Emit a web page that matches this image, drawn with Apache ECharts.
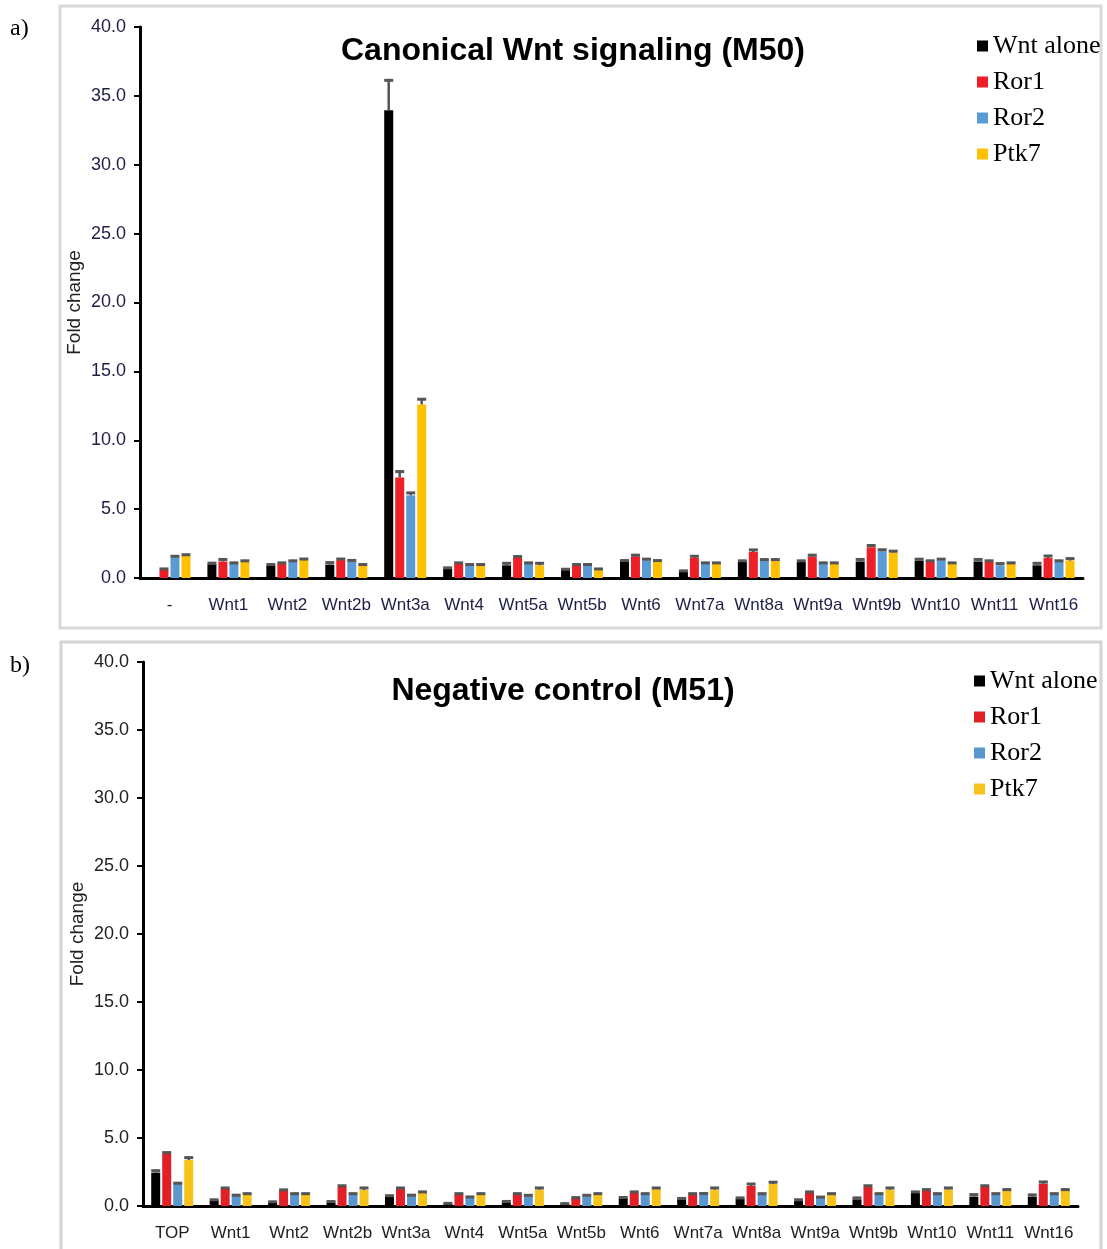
<!DOCTYPE html>
<html>
<head>
<meta charset="utf-8">
<script src="https://cdn.jsdelivr.net/npm/echarts@6/dist/echarts.min.js"></script>
<style>
html,body{margin:0;padding:0;background:#fff;}
#chart{width:1107px;height:1249px;}
</style>
</head>
<body>
<div id="chart"></div>
<script>
// ---------- DATA ----------
const seriesNames = ['Wnt alone', 'Ror1', 'Ror2', 'Ptk7'];
const yTicks = [0, 5, 10, 15, 20, 25, 30, 35, 40];

// Panel a: Canonical Wnt signaling (M50)
const catsA = ['-', 'Wnt1', 'Wnt2', 'Wnt2b', 'Wnt3a', 'Wnt4', 'Wnt5a', 'Wnt5b', 'Wnt6', 'Wnt7a', 'Wnt8a', 'Wnt9a', 'Wnt9b', 'Wnt10', 'Wnt11', 'Wnt16'];
const aWnt   = [0,   1.00, 0.90, 0.97, 33.95, 0.68, 0.92, 0.58, 1.16, 0.46, 1.16, 1.16, 1.20, 1.26, 1.20, 0.92];
const aRor1  = [0.60, 1.20, 1.02, 1.30, 7.30, 1.02, 1.45, 0.90, 1.57, 1.45, 1.89, 1.55, 2.23, 1.16, 1.16, 1.45];
const aRor2  = [1.50, 1.04, 1.16, 1.19, 6.00, 0.90, 1.02, 0.90, 1.28, 1.02, 1.26, 1.02, 1.94, 1.28, 0.92, 1.16];
const aPtk7  = [1.60, 1.16, 1.30, 0.90, 12.60, 0.90, 0.92, 0.58, 1.16, 1.02, 1.23, 1.02, 1.84, 1.02, 1.02, 1.26];
const aWntErr  = [0,    0.15, 0.15, 0.22, 2.25, 0.13, 0.22, 0.13, 0.18, 0.13, 0.16, 0.16, 0.22, 0.18, 0.22, 0.22];
const aRor1Err = [0.13, 0.22, 0.15, 0.15, 0.50, 0.15, 0.18, 0.15, 0.16, 0.20, 0.22, 0.18, 0.20, 0.16, 0.16, 0.22];
const aRor2Err = [0.15, 0.13, 0.16, 0.16, 0.25, 0.15, 0.15, 0.15, 0.16, 0.15, 0.15, 0.15, 0.18, 0.16, 0.20, 0.16];
const aPtk7Err = [0.16, 0.16, 0.15, 0.15, 0.45, 0.15, 0.22, 0.15, 0.18, 0.15, 0.18, 0.15, 0.18, 0.15, 0.15, 0.22];

// Panel b: Negative control (M51)
const catsB = ['TOP', 'Wnt1', 'Wnt2', 'Wnt2b', 'Wnt3a', 'Wnt4', 'Wnt5a', 'Wnt5b', 'Wnt6', 'Wnt7a', 'Wnt8a', 'Wnt9a', 'Wnt9b', 'Wnt10', 'Wnt11', 'Wnt16'];
const bWnt   = [2.45, 0.39, 0.25, 0.27, 0.69, 0.17, 0.27, 0.15, 0.54, 0.49, 0.51, 0.39, 0.49, 0.96, 0.69, 0.69];
const bRor1  = [3.87, 1.25, 1.13, 1.40, 1.25, 0.83, 0.83, 0.56, 0.96, 0.83, 1.47, 0.96, 1.40, 1.13, 1.40, 1.64];
const bRor2  = [1.62, 0.74, 0.83, 0.83, 0.74, 0.59, 0.71, 0.71, 0.83, 0.86, 0.83, 0.60, 0.83, 0.83, 0.83, 0.83];
const bPtk7  = [3.38, 0.83, 0.83, 1.18, 0.96, 0.83, 1.20, 0.83, 1.25, 1.20, 1.62, 0.83, 1.20, 1.22, 1.13, 1.13];
const bWntErr  = [0.22, 0.14, 0.13, 0.13, 0.14, 0.10, 0.14, 0.10, 0.16, 0.14, 0.16, 0.14, 0.18, 0.15, 0.22, 0.20];
const bRor1Err = [0.13, 0.15, 0.13, 0.16, 0.15, 0.15, 0.15, 0.13, 0.15, 0.15, 0.22, 0.15, 0.16, 0.15, 0.16, 0.20];
const bRor2Err = [0.13, 0.13, 0.15, 0.15, 0.13, 0.15, 0.15, 0.15, 0.15, 0.13, 0.15, 0.13, 0.15, 0.15, 0.15, 0.15];
const bPtk7Err = [0.25, 0.15, 0.15, 0.22, 0.15, 0.15, 0.20, 0.15, 0.15, 0.20, 0.20, 0.15, 0.20, 0.18, 0.15, 0.15];

// ---------- STYLE ----------
const colorsA = ['#000000', '#ee1f26', '#5b9bd5', '#ffc000'];
const colorsB = ['#000000', '#e01f27', '#5b97cf', '#f7c21a'];
const BAR_W = 9;
const PITCH = 11;
const errColor = '#555555';

const chart = echarts.init(document.getElementById('chart'));

function errSeries(values, errs, idx, axisIdx) {
  const data = values.map((v, i) => [i, v, errs[i]]);
  return {
    type: 'custom',
    xAxisIndex: axisIdx,
    yAxisIndex: axisIdx,
    silent: true,
    z: 5,
    data: data,
    renderItem: function (params, api) {
      const cat = api.value(0), v = api.value(1), e = api.value(2);
      if (!e) return null;
      const p0 = api.coord([cat, v]);
      const p1 = api.coord([cat, v + e]);
      const x = p0[0] + (idx - 1.5) * PITCH;
      return {
        type: 'group',
        children: [
          { type: 'line', shape: { x1: x, y1: p0[1], x2: x, y2: p1[1] }, style: { stroke: errColor, lineWidth: 2.5 } },
          { type: 'line', shape: { x1: x - BAR_W / 2, y1: p1[1] + 1, x2: x + BAR_W / 2, y2: p1[1] + 1 }, style: { stroke: errColor, lineWidth: 3 } }
        ]
      };
    }
  };
}

function barSeries(name, values, color, axisIdx) {
  return {
    name: name,
    type: 'bar',
    xAxisIndex: axisIdx,
    yAxisIndex: axisIdx,
    barWidth: BAR_W,
    barGap: ((PITCH - BAR_W) / BAR_W * 100) + '%',
    itemStyle: { color: color },
    data: values
  };
}

const valsA = [aWnt, aRor1, aRor2, aPtk7];
const errsA = [aWntErr, aRor1Err, aRor2Err, aPtk7Err];
const valsB = [bWnt, bRor1, bRor2, bPtk7];
const errsB = [bWntErr, bRor1Err, bRor2Err, bPtk7Err];

const series = [];
seriesNames.forEach((n, i) => series.push(barSeries(n, valsA[i], colorsA[i], 0)));
seriesNames.forEach((n, i) => series.push(barSeries(n, valsB[i], colorsB[i], 1)));
seriesNames.forEach((n, i) => series.push(errSeries(valsA[i], errsA[i], i, 0)));
seriesNames.forEach((n, i) => series.push(errSeries(valsB[i], errsB[i], i, 1)));

function yAxis(gridIndex, labelColor, nameGap) {
  return {
    type: 'value',
    gridIndex: gridIndex,
    min: yTicks[0],
    max: yTicks[yTicks.length - 1],
    interval: yTicks[1] - yTicks[0],
    name: 'Fold change',
    nameLocation: 'middle',
    nameRotate: 90,
    nameGap: nameGap,
    nameMoveOverlap: false,
    nameTextStyle: { fontFamily: 'Liberation Sans, Arial', fontSize: 19, color: '#222' },
    axisLine: { show: true, lineStyle: { color: '#000', width: 3 } },
    axisTick: { show: true, inside: false, length: 6, lineStyle: { color: '#000', width: 2 } },
    splitLine: { show: false },
    axisLabel: {
      formatter: v => v.toFixed(1),
      fontFamily: 'Liberation Sans, Arial',
      fontSize: 18,
      color: labelColor,
      margin: 14
    }
  };
}

function xAxis(gridIndex, cats, labelColor) {
  return {
    type: 'category',
    gridIndex: gridIndex,
    data: cats,
    axisLine: { show: true, lineStyle: { color: '#000', width: 3 } },
    axisTick: { show: false },
    axisLabel: {
      fontFamily: 'Liberation Sans, Arial',
      fontSize: 17,
      color: labelColor,
      margin: 19,
      interval: 0
    }
  };
}

const legendText = { fontFamily: 'Liberation Serif, Times New Roman', fontSize: 26, color: '#000', lineHeight: 24 };

chart.setOption({
  animation: false,
  backgroundColor: '#fff',
  grid: [
    { left: 140, top: 27, width: 943, height: 551 },
    { left: 143, top: 662, width: 935, height: 544 }
  ],
  xAxis: [xAxis(0, catsA, '#1e1e46'), xAxis(1, catsB, '#222')],
  yAxis: [yAxis(0, '#1e1e46', 56), yAxis(1, '#222', 56)],
  legend: [
    {
      orient: 'vertical', left: 972, top: 28, itemWidth: 11, itemHeight: 11, itemGap: 10, itemTextGap: 5,
      icon: 'rect', textStyle: legendText, selectedMode: false,
      data: seriesNames.map((n, i) => ({ name: n, itemStyle: { color: colorsA[i] } }))
    },
    {
      orient: 'vertical', left: 969, top: 663, itemWidth: 11, itemHeight: 11, itemGap: 10, itemTextGap: 4,
      icon: 'rect', textStyle: legendText, selectedMode: false,
      data: seriesNames.map((n, i) => ({ name: n, itemStyle: { color: colorsB[i] } }))
    }
  ],
  graphic: [
    { type: 'rect', shape: { x: 60, y: 6, width: 1041, height: 622 }, style: { fill: 'none', stroke: '#d9d9d9', lineWidth: 3 }, z: -1 },
    { type: 'rect', shape: { x: 61, y: 642, width: 1040, height: 612 }, style: { fill: 'none', stroke: '#d4d4d4', lineWidth: 3 }, z: -1 },
    { type: 'text', left: 10, top: 17, style: { text: 'a)', font: '24px "Liberation Serif", "Times New Roman"', fill: '#000' } },
    { type: 'text', left: 10, top: 654, style: { text: 'b)', font: '24px "Liberation Serif", "Times New Roman"', fill: '#000' } },
    { type: 'text', x: 573, y: 51, style: { text: 'Canonical Wnt signaling (M50)', font: 'bold 32px "Liberation Sans", Arial', fill: '#000', textAlign: 'center', textVerticalAlign: 'middle' } },
    { type: 'text', x: 563, y: 691, style: { text: 'Negative control (M51)', font: 'bold 32px "Liberation Sans", Arial', fill: '#000', textAlign: 'center', textVerticalAlign: 'middle' } }
  ],
  series: series
});
</script>
</body>
</html>
